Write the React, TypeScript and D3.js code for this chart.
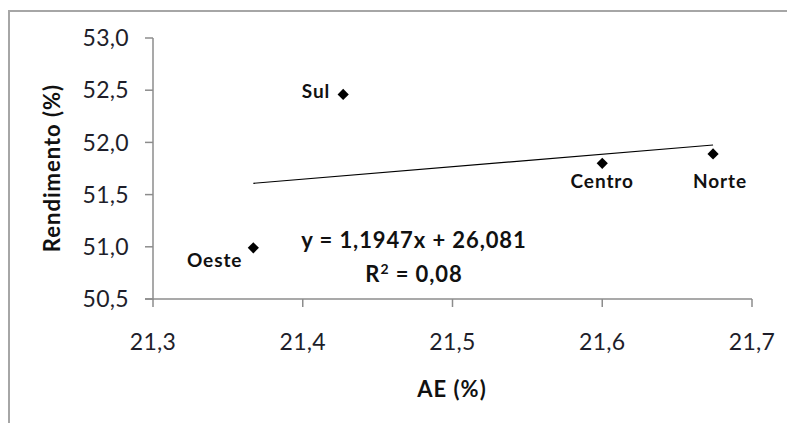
import React from "react";
import * as d3 from "d3";

const regions = ["Oeste", "Sul", "Centro", "Norte"];
const aeValues = [21.367, 21.427, 21.6, 21.674];
const rendValues = [50.99, 52.46, 51.8, 51.89];
const xTicks = [21.3, 21.4, 21.5, 21.6, 21.7];
const yTicks = [50.5, 51.0, 51.5, 52.0, 52.5, 53.0];
const slope = 1.1947;
const intercept = 26.081;
const r2 = "0,08";

// label placement (layout, not data)
const labelLayout: Record<string, { dx: number; dy: number; anchor: string }> = {
  Oeste: { dx: -11, dy: 19, anchor: "end" },
  Sul: { dx: -13, dy: 4, anchor: "end" },
  Centro: { dx: 0, dy: 25, anchor: "middle" },
  Norte: { dx: 7, dy: 34, anchor: "middle" },
};

const W = 787;
const H = 423;
const fmt = (v: number) => v.toFixed(1).replace(".", ",");
const FONT = "Lato, 'Open Sans', sans-serif";

export default function App() {
  const x = d3.scaleLinear().domain([21.3, 21.7]).range([153, 752]);
  const y = d3.scaleLinear().domain([50.5, 53.0]).range([299, 38]);
  const axisColor = "#8c8c8c";
  const textColor = "#1e1e2a";
  const x0 = d3.min(aeValues)!;
  const x1 = d3.max(aeValues)!;
  const trend = d3.line<number>()
    .x((d) => x(d))
    .y((d) => y(slope * d + intercept));
  const diamond = d3.symbol().type(d3.symbolDiamond2).size(80)();
  const eqCx = 414;
  return (
    <svg width={W} height={H} style={{ position: "absolute", left: 0, top: 0, background: "#fff" }}>
      <rect x={0} y={0} width={W} height={H} fill="#fff" />
      <path d={`M9,${H} L9,11 L${W},11`} fill="none" stroke="#a6a6a6" strokeWidth={2} />
      {/* y axis */}
      <line x1={x(21.3)} x2={x(21.3)} y1={y(53)} y2={y(50.5) + 1} stroke={axisColor} strokeWidth={1.5} />
      {yTicks.map((t) => (
        <g key={t}>
          <line x1={x(21.3) - 8} x2={x(21.3)} y1={y(t)} y2={y(t)} stroke={axisColor} strokeWidth={1.5} />
          <text x={129} y={y(t)} dy="0.36em" textAnchor="end" fontFamily={FONT} fontSize={23} letterSpacing={0.3} fill={textColor}>
            {fmt(t)}
          </text>
        </g>
      ))}
      {/* x axis */}
      <line x1={x(21.3) - 8} x2={x(21.7)} y1={y(50.5)} y2={y(50.5)} stroke={axisColor} strokeWidth={1.5} />
      {xTicks.map((t) => (
        <g key={t}>
          <line x1={x(t)} x2={x(t)} y1={y(50.5)} y2={y(50.5) + 8} stroke={axisColor} strokeWidth={1.5} />
          <text x={x(t)} y={350} textAnchor="middle" fontFamily={FONT} fontSize={23} letterSpacing={0.3} fill={textColor}>
            {fmt(t)}
          </text>
        </g>
      ))}
      {/* trendline */}
      <path d={trend([x0, x1]) || ""} fill="none" stroke="#000" strokeWidth={1.2} />
      {/* points */}
      {regions.map((r, i) => {
        const px = x(aeValues[i]);
        const py = y(rendValues[i]);
        const l = labelLayout[r];
        return (
          <g key={r}>
            <path d={diamond || ""} transform={`translate(${px},${py})`} fill="#000" />
            <text x={px + l.dx} y={py + l.dy} textAnchor={l.anchor} fontFamily={FONT} fontWeight="bold" fontSize={19} letterSpacing={0.9} fill="#111">
              {r}
            </text>
          </g>
        );
      })}
      {/* equation */}
      <text x={eqCx} y={248} textAnchor="middle" fontFamily={FONT} fontWeight="bold" fontSize={22} letterSpacing={0.9} fill="#111">
        {`y = ${String(slope).replace(".", ",")}x + ${String(intercept).replace(".", ",")}`}
      </text>
      <text x={eqCx} y={282} textAnchor="middle" fontFamily={FONT} fontWeight="bold" fontSize={22} letterSpacing={0.9} fill="#111">
        R<tspan dy={-8} fontSize={14}>2</tspan>
        <tspan dy={8}>{` = ${r2}`}</tspan>
      </text>
      {/* axis titles */}
      <text x={452} y={397} textAnchor="middle" fontFamily={FONT} fontWeight="bold" fontSize={22} letterSpacing={1} fill="#111">
        AE (%)
      </text>
      <text transform={`translate(60,168) rotate(-90)`} textAnchor="middle" fontFamily={FONT} fontWeight="bold" fontSize={22} letterSpacing={1} fill="#111">
        Rendimento (%)
      </text>
    </svg>
  );
}
